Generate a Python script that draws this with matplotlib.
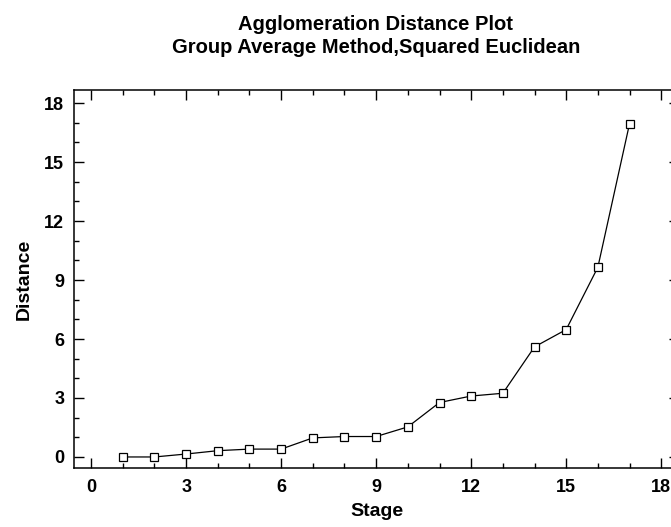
import matplotlib
matplotlib.use("Agg")
import matplotlib.pyplot as plt
from matplotlib.ticker import MultipleLocator

# agglomeration distances
stages = [1, 2, 3, 4, 5, 6, 7, 8, 9, 10, 11, 12, 13, 14, 15, 16, 17]
distances = [0.0, 0.0, 0.15, 0.32, 0.40, 0.40, 0.97, 1.04, 1.04, 1.53,
             2.77, 3.10, 3.24, 5.60, 6.48, 9.65, 16.95]

plt.rcParams['font.family'] = ['Liberation Sans', 'DejaVu Sans']
plt.rcParams['font.weight'] = 'bold'

fig = plt.figure(figsize=(6.71, 5.27), dpi=100)
# right spine sits just past the image edge, as in the original
ax = fig.add_axes([0.1103, 0.112, 0.902, 0.717])

ax.plot(stages, distances, color='black', linewidth=0.9,
        marker='s', markersize=5.5, markerfacecolor='white',
        markeredgecolor='black', markeredgewidth=0.9)

ax.set_xlim(-0.54, 18.57)
ax.set_ylim(-0.56, 18.66)
ax.xaxis.set_major_locator(MultipleLocator(3))
ax.xaxis.set_minor_locator(MultipleLocator(1))
ax.yaxis.set_major_locator(MultipleLocator(3))
ax.yaxis.set_minor_locator(MultipleLocator(1))
ax.tick_params(which='both', direction='in', top=True, right=True,
               labelsize=13, width=1)
ax.tick_params(which='major', length=7)
ax.tick_params(which='minor', length=3.5)
ax.tick_params(axis='x', which='major', pad=8)
ax.tick_params(axis='y', which='major', pad=7)
for lbl in ax.get_xticklabels() + ax.get_yticklabels():
    lbl.set_fontweight('bold')
for sp in ax.spines.values():
    sp.set_linewidth(1.1)

ax.set_xlabel("Stage", fontsize=14, fontweight='bold', labelpad=5)
ax.set_ylabel("Distance", fontsize=14, fontweight='bold', labelpad=8)
fig.text(0.56, 0.972,
         "Agglomeration Distance Plot\nGroup Average Method,Squared Euclidean",
         ha='center', va='top', fontsize=14.5, fontweight='bold',
         linespacing=1.25)

fig.savefig("out.png", dpi=100)
